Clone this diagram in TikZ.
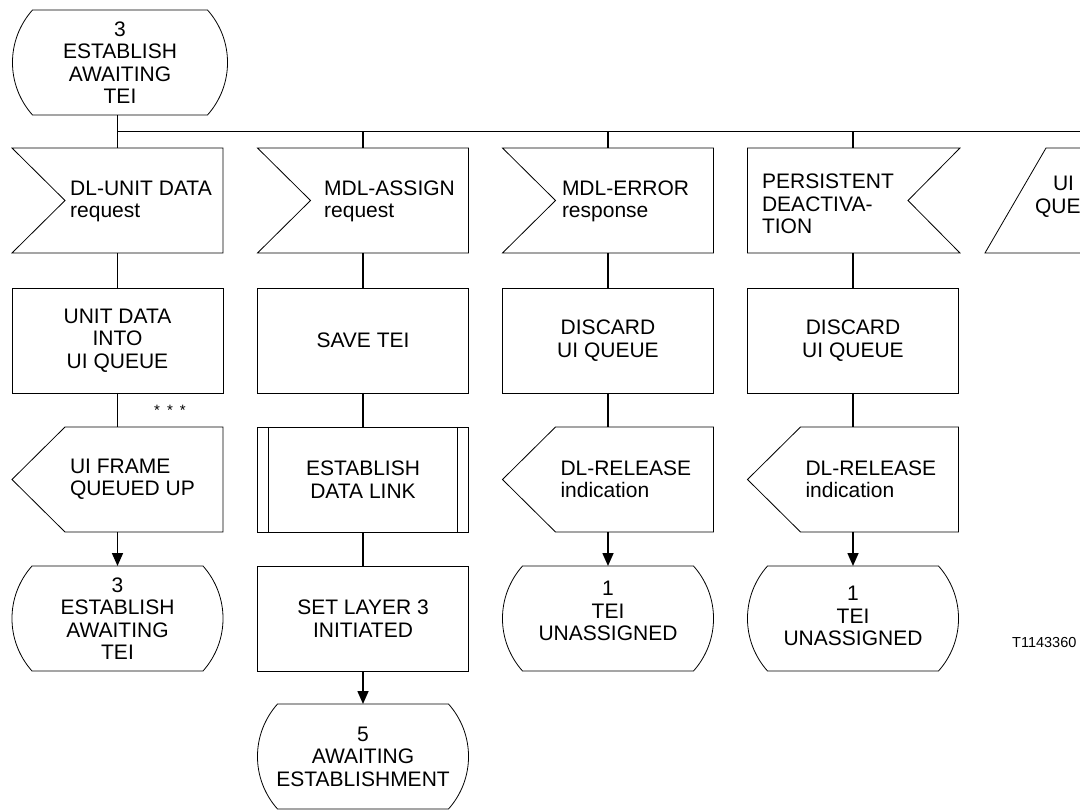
\documentclass[tikz,border=0pt]{standalone}
\usepackage{fontspec}
\setmainfont{Liberation Sans}
\usetikzlibrary{calc,arrows.meta}

\newcommand\sdlfont{\fontsize{21}{22.5}\selectfont}

% SDL state symbol: straight top and bottom, bulging sides
\newcommand\sdlstate[1]{%
  \draw[outline]
    ($(#1.north west)+(20,0)$) -- ($(#1.north east)+(-20,0)$)
    .. controls ($(#1.north east)+(6.7,30)$) and ($(#1.south east)+(6.7,-30)$) .. ($(#1.south east)+(-20,0)$)
    -- ($(#1.south west)+(20,0)$)
    .. controls ($(#1.south west)+(-6.7,-30)$) and ($(#1.north west)+(-6.7,30)$) .. ($(#1.north west)+(20,0)$)
    -- cycle;}
% input signal, notch on the left
\newcommand\sdlinput[1]{%
  \draw[outline] (#1.north west) -- (#1.north east) -- (#1.south east)
    -- (#1.south west) -- ($(#1.west)+(53,0)$) -- cycle;}
% input signal, notch on the right
\newcommand\sdlinputr[1]{%
  \draw[outline] (#1.north west) -- ($(#1.north east)+(1.5,0)$) -- ($(#1.east)+(-50.5,0)$)
    -- ($(#1.south east)+(1.5,0)$) -- (#1.south west) -- cycle;}
% output signal, point on the left
\newcommand\sdloutput[1]{%
  \draw[outline] ($(#1.north west)+(53,0)$) -- (#1.north east) -- (#1.south east)
    -- ($(#1.south west)+(53,0)$) -- (#1.west) -- cycle;}
% slanted signal symbol
\newcommand\sdlslant[1]{%
  \draw[outline] (#1.south west) -- ($(#1.north west)+(61,0)$) -- (#1.north east)
    -- (#1.south east) -- cycle;}
% procedure call bars
\newcommand\sdlproc[1]{%
  \draw[dblbar] ($(#1.north west)+(11,0)$) -- ($(#1.south west)+(11,0)$);
  \draw[dblbar] ($(#1.north east)+(-11,0)$) -- ($(#1.south east)+(-11,0)$);}

\begin{document}
\begin{tikzpicture}[x=1pt,y=-1pt,
  outline/.style={draw=black, line width=0.8pt, line join=miter},
  blk/.style={minimum width=211pt, minimum height=105pt, inner sep=0pt, outer sep=0pt,
              font=\sdlfont, align=center},
  taskbox/.style={blk, outline},
  shapeonly/.style={blk},
  sig/.style={inner sep=0pt, outer sep=0pt, font=\sdlfont, align=left},
  lbl/.style={inner sep=0pt, outer sep=0pt, font=\sdlfont, align=center},
  conn/.style={line width=1.6pt},
  flow/.style={conn, -{Triangle[length=13pt,width=11pt]}},
  busline/.style={line width=1pt},
  dblbar/.style={line width=1.6pt}]

\useasboundingbox (0,0) rectangle (1080,810);
\fill[white] (0,0) rectangle (1080,810);
\clip (0,0) rectangle (1080,810);

% start state
\node[shapeonly, minimum width=215pt] (s0) at (120,62.5) {3\\ESTABLISH\\AWAITING\\TEI};

% signal inputs
\node[shapeonly] (i1) at (117.5,200.5) {};
\node[sig] (i1t) at (141,201.5) {DL-UNIT DATA\\request};
\node[shapeonly] (i2) at (363,200.5) {};
\node[sig] (i2t) at (389.5,201.5) {MDL-ASSIGN\\request};
\node[shapeonly] (i3) at (608,200.5) {};
\node[sig, anchor=west] (i3t) at (562,201.5) {MDL-ERROR\\response};
\node[shapeonly] (i4) at (853,200.5) {};
\node[sig] (i4t) at (828,204) {PERSISTENT\\DEACTIVA-\\TION};
\node[shapeonly] (i5) at (1090.5,200.5) {};
\node[sig, anchor=west] (i5t) at (1035,197) {\hspace*{18pt}UI\\QUE};

% tasks
\node[taskbox] (t1) at (117.5,340.5) {UNIT DATA\\INTO\\UI QUEUE};
\node[taskbox] (t2) at (363,340.5) {SAVE TEI};
\node[taskbox] (t3) at (608,340.5) {DISCARD\\UI QUEUE};
\node[taskbox] (t4) at (853,340.5) {DISCARD\\UI QUEUE};

% outputs and procedure call
\node[shapeonly] (o1) at (117.5,479.5) {};
\node[sig, anchor=west] (o1t) at ($(o1.west)+(58,0)$) {UI FRAME\\QUEUED UP};
\node[taskbox] (p2) at (363,479.5) {ESTABLISH\\DATA LINK};
\node[shapeonly] (o3) at (608,479.5) {};
\node[sig, anchor=west] (o3t) at ($(o3.west)+(58,0)$) {DL-RELEASE\\indication};
\node[shapeonly] (o4) at (853,479.5) {};
\node[sig, anchor=west] (o4t) at ($(o4.west)+(58,0)$) {DL-RELEASE\\indication};

% next states and last task
\node[shapeonly] (s1) at (117.5,618.5) {3\\ESTABLISH\\AWAITING\\TEI};
\node[taskbox] (u2) at (363,618.5) {SET LAYER 3\\INITIATED};
\node[shapeonly] (s3) at (608,618.5) {};
\node[lbl] (s3t) at (608,611) {1\\TEI\\UNASSIGNED};
\node[shapeonly] (s4) at (853,618.5) {};
\node[lbl] (s4t) at (853,616) {1\\TEI\\UNASSIGNED};
\node[shapeonly] (s2) at (363,756.5) {5\\AWAITING\\ESTABLISHMENT};

\node[font=\fontsize{15}{15}\selectfont, inner sep=0pt] (stars) at (170,410) {*\hspace{7pt}*\hspace{7pt}*};
\node[font=\fontsize{14.5}{15}\selectfont, inner sep=0pt, anchor=west] (ref) at (1012,643) {T1143360};

% symbol outlines
\sdlstate{s0}
\sdlinput{i1} \sdlinput{i2} \sdlinput{i3}
\sdlinputr{i4}
\sdlslant{i5}
\sdloutput{o1} \sdloutput{o3} \sdloutput{o4}
\sdlproc{p2}
\sdlstate{s1} \sdlstate{s3} \sdlstate{s4} \sdlstate{s2}

% connectors
\coordinate (bus) at ($(i1.north)+(0,-16)$);
\draw[conn] (s0.south -| i1.north) -- (i1.north);
\draw[busline] (bus) -- (bus -| i5.north);
\foreach \n in {i2,i3,i4} \draw[conn] (bus -| \n.north) -- (\n.north);

\draw[conn] (i1.south) -- (t1.north);
\draw[conn] (t1.south) -- (o1.north);
\draw[flow] (o1.south) -- (s1.north);

\draw[conn] (i2.south) -- (t2.north);
\draw[conn] (t2.south) -- (p2.north);
\draw[conn] (p2.south) -- (u2.north);
\draw[flow] (u2.south) -- (s2.north);

\draw[conn] (i3.south) -- (t3.north);
\draw[conn] (t3.south) -- (o3.north);
\draw[flow] (o3.south) -- (s3.north);

\draw[conn] (i4.south) -- (t4.north);
\draw[conn] (t4.south) -- (o4.north);
\draw[flow] (o4.south) -- (s4.north);
\end{tikzpicture}
\end{document}
